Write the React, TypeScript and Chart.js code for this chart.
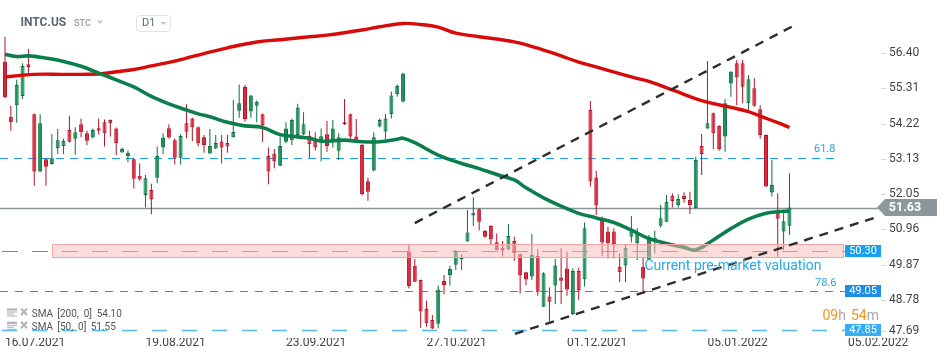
import { useEffect, useRef } from "react";
import { Chart, registerables } from "chart.js";

Chart.register(...registerables);

// ---------- DATA ----------
const symbolName = "INTC.US";
const symbolType = "STC";
const intervalName = "D1";

const dateLabels = ["16.07.2021", "19.08.2021", "23.09.2021", "27.10.2021", "01.12.2021", "05.01.2022", "05.02.2022"];
const dateIndex = [0, 24, 48, 72, 96, 120, 144];
const priceTicks = [56.4, 55.31, 54.22, 53.13, 52.05, 50.96, 49.87, 48.78, 47.69];

const opens = [
  56.13, 54.43, 54.79, 55.07, 56.05, 54.51, 52.74, 53.12, 52.97, 53.46,
  53.53, 54.02, 53.75, 54.2, 53.92, 53.8, 54.08, 54.26, 54.33, 54.07,
  53.33, 53.22, 53.12, 52.61, 52.02, 52.17, 52.55, 53.48, 54.08, 53.71,
  53.17, 54.23, 54.38, 54.11, 53.8, 53.3, 53.45, 53.67, 53.62, 53.8,
  54.62, 55.35, 54.59, 54.77, 54.51, 53.22, 53.3, 52.92, 53.66, 53.71,
  53.87, 53.89, 53.84, 53.69, 53.65, 53.89, 53.66, 53.38, 54.26, 54.51,
  53.82, 53.56, 52.44, 52.77, 54.13, 53.98, 54.52, 55.13, 54.9, 50.27,
  49.83, 49.39, 48.5, 48.16, 48.04, 49.36, 49.55, 49.86, 50.03, 50.58,
  51.38, 51.58, 50.91, 51.06, 50.56, 50.39, 50.34, 50.6, 50.19, 49.63,
  49.5, 50.13, 48.57, 48.88, 49.22, 49.47, 49.75, 48.34, 49.67, 49.42,
  54.64, 52.56, 51.25, 50.89, 50.89, 49.8, 49.84, 50.73, 50.53, 49.8,
  50.03, 50.63, 51.07, 51.19, 51.99, 51.71, 51.99, 51.86, 51.61, 53.53,
  54.07, 54.54, 54.15, 53.82, 55.46, 56.08, 56.08, 54.85, 55.31, 54.66,
  53.87, 52.09, 51.5, 50.89, 51.07,
];
const highs = [
  56.9, 54.76, 55.57, 56.08, 56.52, 54.53, 54.51, 53.14, 53.9, 54.05,
  53.75, 54.46, 54.11, 54.38, 54.0, 54.07, 54.38, 54.35, 54.35, 54.1,
  53.48, 53.39, 53.15, 52.99, 52.63, 52.36, 53.51, 53.92, 54.2, 53.76,
  53.89, 54.82, 54.4, 54.13, 53.87, 54.05, 53.87, 53.87, 53.87, 54.95,
  55.43, 55.41, 55.1, 54.93, 54.53, 53.48, 53.44, 53.84, 54.26, 54.38,
  54.83, 54.57, 54.0, 53.95, 54.07, 54.3, 54.33, 53.92, 54.98, 54.53,
  54.36, 53.58, 52.55, 53.95, 54.38, 54.52, 55.21, 55.43, 55.79, 50.47,
  50.04, 49.41, 48.75, 48.31, 49.22, 49.55, 49.83, 50.32, 50.19, 51.55,
  51.95, 51.61, 50.93, 51.08, 50.83, 50.6, 51.12, 50.73, 50.21, 49.65,
  50.81, 50.34, 49.63, 49.16, 50.04, 50.37, 50.27, 49.75, 49.77, 51.17,
  54.92, 52.76, 51.35, 51.04, 50.99, 50.22, 50.5, 51.37, 50.99, 50.09,
  50.78, 50.91, 51.71, 52.02, 52.07, 52.04, 52.1, 52.12, 53.2, 53.9,
  56.15, 54.56, 54.17, 54.98, 55.84, 56.18, 56.18, 55.72, 55.62, 54.79,
  53.89, 53.1, 52.07, 51.45, 52.69,
];
const lows = [
  55.0, 54.0, 54.25, 54.98, 55.77, 52.3, 52.72, 52.3, 52.95, 53.28,
  53.28, 53.64, 53.26, 53.8, 53.56, 53.76, 53.88, 53.51, 53.82, 53.25,
  53.32, 53.03, 52.22, 52.46, 51.63, 51.42, 52.38, 53.28, 53.75, 52.96,
  52.96, 53.77, 53.68, 53.51, 53.32, 53.29, 53.43, 52.99, 53.32, 53.79,
  54.4, 54.28, 54.4, 54.26, 53.66, 52.35, 52.84, 52.91, 53.61, 53.56,
  53.86, 53.87, 53.17, 53.39, 53.05, 53.35, 53.48, 53.1, 54.18, 53.75,
  53.63, 52.0, 51.84, 52.74, 54.1, 53.73, 54.38, 55.05, 54.87, 49.13,
  49.33, 47.92, 47.95, 47.87, 47.9, 48.95, 49.22, 49.7, 49.7, 50.57,
  51.06, 50.92, 50.7, 50.5, 50.31, 50.11, 50.32, 49.99, 48.98, 49.22,
  49.39, 48.91, 48.56, 48.11, 48.65, 48.65, 48.91, 48.31, 48.78, 49.19,
  52.28, 51.4, 50.13, 50.06, 50.06, 49.32, 49.32, 50.55, 50.01, 48.96,
  50.02, 50.22, 51.01, 51.18, 51.63, 51.63, 51.78, 51.43, 51.6, 52.63,
  54.06, 53.43, 53.38, 53.35, 55.05, 54.79, 54.85, 54.64, 54.74, 53.75,
  52.26, 51.97, 50.11, 50.32, 50.78,
];
const closes = [
  55.03, 54.26, 55.41, 56.0, 55.97, 52.74, 54.23, 52.89, 53.15, 53.71,
  53.68, 53.66, 53.95, 53.95, 53.69, 54.02, 54.0, 53.92, 54.23, 53.61,
  53.44, 53.32, 52.52, 52.5, 52.53, 51.88, 53.22, 53.79, 53.79, 53.17,
  53.84, 53.97, 54.11, 53.61, 53.56, 53.53, 53.62, 53.48, 53.51, 53.96,
  54.85, 54.36, 55.09, 54.89, 54.16, 52.74, 53.05, 53.53, 54.07, 54.33,
  54.72, 54.2, 53.58, 53.48, 53.83, 53.53, 54.07, 53.8, 54.2, 53.82,
  53.64, 52.05, 52.12, 53.8, 54.33, 54.38, 55.09, 55.38, 55.77, 49.21,
  49.34, 48.42, 48.06, 47.9, 49.1, 49.24, 49.73, 50.29, 50.09, 50.86,
  51.47, 51.19, 50.73, 50.65, 50.32, 50.3, 50.75, 50.22, 49.53, 49.41,
  50.17, 49.03, 49.6, 48.72, 49.84, 49.37, 49.1, 49.67, 49.07, 50.99,
  52.43, 51.69, 50.55, 50.53, 50.5, 49.63, 50.39, 50.89, 50.83, 49.44,
  50.73, 50.7, 51.3, 51.81, 51.83, 51.89, 51.89, 51.71, 53.1, 53.28,
  54.23, 53.92, 53.44, 54.85, 55.82, 55.65, 55.36, 55.59, 54.77, 53.87,
  52.28, 52.33, 51.28, 51.21, 51.63,
];

const sma200X = [0, 5, 10, 16, 19, 22, 25, 28, 31, 34, 38, 43, 47, 52, 55, 61, 64, 68, 71, 74, 77, 81, 87, 92, 95, 98, 102, 107, 110, 114, 119, 124, 127, 129, 132, 134];
const sma200Y = [55.66, 55.74, 55.74, 55.75, 55.82, 55.89, 56.0, 56.11, 56.24, 56.38, 56.56, 56.74, 56.81, 56.9, 56.95, 57.11, 57.21, 57.31, 57.28, 57.2, 57.01, 56.9, 56.74, 56.49, 56.31, 56.12, 55.92, 55.66, 55.52, 55.26, 54.93, 54.72, 54.59, 54.45, 54.25, 54.1];

const sma50X = [0, 2, 4, 7, 10, 13, 16, 19, 22, 25, 28, 31, 33, 35, 38, 41, 44, 47, 50, 52, 54, 58, 61, 64, 67, 68, 70, 74, 78, 81, 84, 87, 89, 92, 95, 98, 101, 104, 107, 110, 113, 116, 118, 121, 124, 127, 130, 132, 134];
const sma50Y = [56.36, 56.29, 56.31, 56.24, 56.14, 55.99, 55.78, 55.57, 55.35, 55.06, 54.83, 54.64, 54.52, 54.43, 54.26, 54.15, 54.1, 53.88, 53.81, 53.77, 53.68, 53.71, 53.66, 53.66, 53.74, 53.77, 53.63, 53.25, 52.99, 52.83, 52.65, 52.48, 52.24, 51.93, 51.67, 51.45, 51.31, 51.17, 50.93, 50.67, 50.52, 50.4, 50.32, 50.63, 50.98, 51.27, 51.45, 51.5, 51.52];

const upperTrendX = [70.0, 134.4];
const upperTrendY = [51.15, 57.21];
const lowerTrendX = [87.1, 149.5];
const lowerTrendY = [47.73, 51.37];

const lastPrice = 51.63;
const fibValues = [53.16, 49.05];
const fibNames = ["61.8", "78.6"];
const premarketPrice = 50.3;
const supportPrice = 47.85;
const zoneRange = [50.09, 50.5];
const premarketText = "Current pre-market valuation";
const legendNames = ["SMA", "SMA"];
const legendParams = ["[200,  0]", "[50,  0]"];
const legendValues = [54.1, 51.55];
const countdownParts = ["09", "h", "54", "m"];

// ---------- LAYOUT / STYLE ----------
const W = 950;
const H = 361;
const FONT = "Roboto";
const RED_FILL = "#e0283c";
const RED_EDGE = "#b01428";
const GREEN_FILL = "#179458";
const GREEN_EDGE = "#0c6e40";
const ZONE_X0 = 52;
const ZONE_X1 = 843;
const LEVEL_END = 845;
const BOX_X = 845;
const BOX_W = 36;

function txt(ctx: any, s: string, x: number, y: number, font: string, color: string, align = "left") {
  ctx.font = font;
  ctx.fillStyle = color;
  ctx.textAlign = align;
  ctx.textBaseline = "middle";
  ctx.fillText(s, x, y);
}

function hline(ctx: any, y: number, x0: number, x1: number, color: string, width: number, dash: number[], offset = 0) {
  ctx.save();
  ctx.strokeStyle = color;
  ctx.lineWidth = width;
  ctx.setLineDash(dash);
  ctx.lineDashOffset = offset;
  ctx.beginPath();
  const yy = Math.round(y) + 0.5;
  ctx.moveTo(x0, yy);
  ctx.lineTo(x1, yy);
  ctx.stroke();
  ctx.restore();
}

const SMA50_INDEX = 3;

const overlayPlugin = {
  id: "overlay",
  beforeDatasetsDraw(chart: any) {
    const ctx = chart.ctx;
    const ys = chart.scales.y;
    hline(ctx, ys.getPixelForValue(fibValues[0]), 0, 840, "#1aa0e8", 1.2, [8, 6]);
    hline(ctx, ys.getPixelForValue(fibValues[1]), 0, LEVEL_END, "#1a96e0", 1.2, [8, 7]);
    hline(ctx, ys.getPixelForValue(premarketPrice), 0, LEVEL_END, "#2a9fe6", 1.2, [16, 14], -2);
    hline(ctx, ys.getPixelForValue(supportPrice), 0, LEVEL_END, "#5bbcf0", 1.6, [15, 15], -2);
    hline(ctx, ys.getPixelForValue(lastPrice), 0, 878, "#8a9499", 1.4, []);
  },
  afterDatasetDraw(chart: any, args: any) {
    if (args.index !== SMA50_INDEX) return;
    const ctx = chart.ctx;
    const ys = chart.scales.y;
    const yTop = Math.round(ys.getPixelForValue(zoneRange[1]));
    const yBot = Math.round(ys.getPixelForValue(zoneRange[0]));
    ctx.save();
    ctx.fillStyle = "rgba(252, 185, 185, 0.5)";
    ctx.fillRect(ZONE_X0, yTop, ZONE_X1 - ZONE_X0, yBot - yTop);
    ctx.strokeStyle = "#f2a4a4";
    ctx.lineWidth = 1;
    ctx.strokeRect(ZONE_X0 + 0.5, yTop + 0.5, ZONE_X1 - ZONE_X0, yBot - yTop);
    ctx.restore();
  },
  afterDraw(chart: any) {
    const ctx = chart.ctx;
    const ys = chart.scales.y;
    ctx.save();

    // y axis ticks + labels
    priceTicks.forEach((v) => {
      const py = Math.min(ys.getPixelForValue(v), 331);
      ctx.strokeStyle = "#d6d6d6";
      ctx.lineWidth = 1;
      ctx.beginPath();
      ctx.moveTo(881, Math.round(py) + 0.5);
      ctx.lineTo(886, Math.round(py) + 0.5);
      ctx.stroke();
      txt(ctx, v.toFixed(2), 889, py, `12px ${FONT}`, "#444");
    });

    // last price tag
    const yc = ys.getPixelForValue(lastPrice);
    ctx.fillStyle = "#8b979c";
    ctx.beginPath();
    ctx.moveTo(877, yc);
    ctx.lineTo(885, yc - 8.5);
    ctx.lineTo(937, yc - 8.5);
    ctx.lineTo(937, yc + 8.5);
    ctx.lineTo(885, yc + 8.5);
    ctx.closePath();
    ctx.fill();
    txt(ctx, lastPrice.toFixed(2), 905, yc + 0.5, `bold 12.5px ${FONT}`, "#ffffff", "center");

    // blue level boxes
    const boxes = [
      [premarketPrice, "#18a0ec"],
      [fibValues[1], "#1c8fe6"],
      [supportPrice, "#36aef5"],
    ];
    boxes.forEach(([v, c]: any) => {
      const py = ys.getPixelForValue(v);
      ctx.fillStyle = c;
      ctx.fillRect(BOX_X, Math.round(py) - 6, BOX_W, 12);
      txt(ctx, v.toFixed(2), BOX_X + BOX_W / 2, Math.round(py) + 0.5, `11px ${FONT}`, "#ffffff", "center");
    });

    // fib labels
    txt(ctx, fibNames[0], 814, ys.getPixelForValue(fibValues[0]) - 9, `11px ${FONT}`, "#2aa0e6");
    txt(ctx, fibNames[1], 815, ys.getPixelForValue(fibValues[1]) - 8, `11px ${FONT}`, "#2aa0e6");

    // premarket text
    txt(ctx, premarketText, 644.5, 266.5, `14px ${FONT}`, "#2ba6ea");

    // countdown
    ctx.font = `14px ${FONT}`;
    let cx = 822.5;
    countdownParts.forEach((p, k) => {
      txt(ctx, p, cx, 316, `14px ${FONT}`, k % 2 === 0 ? "#f7941d" : "#a8a8a8");
      cx += ctx.measureText(p).width + (k === 1 ? 5 : 0);
    });

    // header
    txt(ctx, symbolName, 20.5, 23, `bold 12px ${FONT}`, "#5b6770");
    txt(ctx, symbolType, 74, 23.5, `600 9px ${FONT}`, "#8fa3b5");
    ctx.fillStyle = "#c5ccd3";
    ctx.beginPath();
    ctx.moveTo(96.5, 20.5);
    ctx.lineTo(103.5, 20.5);
    ctx.lineTo(100, 24);
    ctx.closePath();
    ctx.fill();
    ctx.strokeStyle = "#dfe3e7";
    ctx.lineWidth = 1;
    ctx.beginPath();
    ctx.roundRect(136.5, 15.5, 34, 16, 3);
    ctx.stroke();
    txt(ctx, intervalName, 142, 23.5, `11px ${FONT}`, "#5b6770");
    ctx.fillStyle = "#c3c9ce";
    ctx.beginPath();
    ctx.moveTo(160.5, 22);
    ctx.lineTo(166.5, 22);
    ctx.lineTo(163.5, 25);
    ctx.closePath();
    ctx.fill();

    // legend
    legendNames.forEach((name, r) => {
      const y0 = 308.5 + r * 13.3;
      ctx.fillStyle = "#aab0b5";
      ctx.fillRect(7, y0, 10, 2);
      ctx.fillRect(7, y0 + 3, 10, 1);
      ctx.fillRect(7, y0 + 5, 7, 1);
      ctx.fillRect(7, y0 + 7, 10, 1);
      ctx.strokeStyle = "#b0b5ba";
      ctx.lineWidth = 2;
      ctx.beginPath();
      ctx.moveTo(21, y0);
      ctx.lineTo(27, y0 + 6.5);
      ctx.moveTo(27, y0);
      ctx.lineTo(21, y0 + 6.5);
      ctx.stroke();
      const ty = y0 + 6;
      txt(ctx, name, 31.7, ty, `10px ${FONT}`, "#555");
      txt(ctx, legendParams[r], 57.3, ty, `10px ${FONT}`, "#555");
      txt(ctx, legendValues[r].toFixed(2), r === 0 ? 96.7 : 90.7, ty, `10px ${FONT}`, "#555");
    });

    ctx.restore();
  },
};

export default function App() {
  const ref = useRef<HTMLCanvasElement | null>(null);

  useEffect(() => {
    document.body.style.margin = "0";
    const canvas = ref.current;
    if (!canvas) return;
    Chart.defaults.font.family = FONT;

    const idx = opens.map((_, i) => i);
    const up = idx.map((i) => closes[i] >= opens[i]);

    const chart = new Chart(canvas, {
      type: "bar",
      data: {
        datasets: [
          {
            type: "bar",
            data: idx.map((i) => ({ x: i, y: [lows[i], highs[i]] })),
            backgroundColor: idx.map((i) => (up[i] ? GREEN_EDGE : RED_EDGE)),
            borderWidth: 0,
            barThickness: 1,
            inflateAmount: 0,
            grouped: false,
            order: 2,
          } as any,
          {
            type: "bar",
            data: idx.map((i) => ({ x: i, y: [opens[i], closes[i]] })),
            backgroundColor: idx.map((i) => (up[i] ? GREEN_FILL : RED_FILL)),
            borderColor: idx.map((i) => (up[i] ? GREEN_EDGE : RED_EDGE)),
            borderWidth: 1,
            borderSkipped: false,
            barThickness: 4,
            minBarLength: 1,
            inflateAmount: 0,
            grouped: false,
            order: 1,
          } as any,
          {
            type: "line",
            data: sma200X.map((x, k) => ({ x, y: sma200Y[k] })),
            borderColor: "#d80a0a",
            borderWidth: 3.4,
            pointRadius: 0,
            tension: 0.4,
            order: 0.2,
          } as any,
          {
            type: "line",
            data: sma50X.map((x, k) => ({ x, y: sma50Y[k] })),
            borderColor: "#0a7f4b",
            borderWidth: 3.6,
            pointRadius: 0,
            tension: 0.4,
            order: 0.1,
          } as any,
          {
            type: "line",
            data: upperTrendX.map((x, k) => ({ x, y: upperTrendY[k] })),
            borderColor: "#2d2d2d",
            borderWidth: 2.4,
            borderDash: [9, 7],
            pointRadius: 0,
            order: -1,
          } as any,
          {
            type: "line",
            data: lowerTrendX.map((x, k) => ({ x, y: lowerTrendY[k] })),
            borderColor: "#2d2d2d",
            borderWidth: 2.4,
            borderDash: [9, 7],
            pointRadius: 0,
            order: -1,
          } as any,
        ],
      },
      options: {
        responsive: false,
        animation: false,
        devicePixelRatio: 1,
        layout: { padding: 0 },
        plugins: { legend: { display: false }, tooltip: { enabled: false } },
        scales: {
          x: {
            type: "linear",
            min: -0.854,
            max: 149.47,
            offset: false,
            grid: { display: false, drawTicks: false },
            border: { display: false },
            ticks: {
              autoSkip: false,
              maxRotation: 0,
              align: "start",
              padding: -2,
              color: "#444",
              font: { size: 12, family: FONT },
              callback: (v: any) => {
                const k = dateIndex.indexOf(Number(v));
                return k >= 0 ? dateLabels[k] : "";
              },
            },
            afterBuildTicks: (s: any) => {
              s.ticks = dateIndex.map((v) => ({ value: v }));
            },
            afterFit: (s: any) => {
              s.height = 23;
              s.paddingLeft = 0;
              s.paddingRight = 0;
            },
          },
          y: {
            type: "linear",
            position: "right",
            min: 47.603,
            max: 58.035,
            grid: { display: false, drawTicks: false },
            border: { display: false },
            ticks: { display: false },
            afterFit: (s: any) => {
              s.width = 70;
              s.paddingTop = 0;
              s.paddingBottom = 0;
            },
          },
        },
      } as any,
      plugins: [overlayPlugin],
    });

    return () => chart.destroy();
  }, []);

  return (
    <div style={{ width: W, height: H, background: "#fff" }}>
      <canvas ref={ref} width={W} height={H} style={{ display: "block" }} />
    </div>
  );
}
